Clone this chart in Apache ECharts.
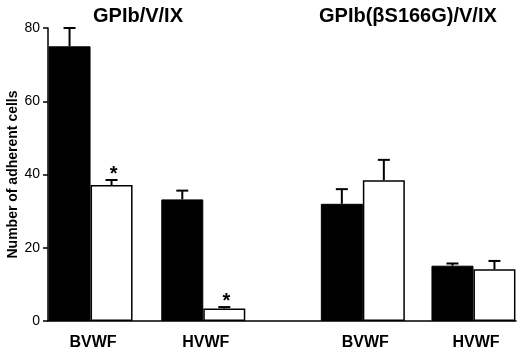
<!DOCTYPE html>
<html><head><meta charset="utf-8">
<script src="https://cdn.jsdelivr.net/npm/echarts@6/dist/echarts.min.js"></script>
<style>html,body{margin:0;padding:0;background:#fff}#c{width:520px;height:352px}</style>
</head><body><div id="c"></div>
<script>
// data
const categories = ['BVWF', 'HVWF', 'BVWF', 'HVWF'];
const groupPos = [1, 3.65, 7.4, 10];           // x position of each group on the category-like value axis
const panelTitles = ['GPIb/V/IX', 'GPIb(βS166G)/V/IX'];
const blackValues = [75, 33.2, 32, 15.1];
const blackErrTop = [80, 35.6, 36, 15.7];
const whiteValues = [37.1, 3.4, 38.4, 14.1];
const whiteErrTop = [38.5, 3.8, 44, 16.4];
const whiteSignificant = [true, true, false, false];
const yTicks = [0, 20, 40, 60, 80];
const yName = 'Number of adherent cells';

const FONT = '"Liberation Sans", Arial, Helvetica, sans-serif';
const BAR_W = 42;

const chart = echarts.init(document.getElementById('c'), null, {renderer: 'canvas'});

function errData(vals, errs, side, sig) {
  return vals.map((v, i) => [groupPos[i], v, errs[i], side, sig ? (sig[i] ? 1 : 0) : 0]);
}

function renderErr(params, api) {
  const x = api.value(0), v = api.value(1), e = api.value(2), side = api.value(3), sig = api.value(4);
  const p0 = api.coord([x, v]);
  const p1 = api.coord([x, e]);
  const cx = p0[0] + side * BAR_W / 2;
  const cap = 12;
  const children = [
    {type: 'line', shape: {x1: cx, y1: p0[1], x2: cx, y2: p1[1]}, style: {stroke: '#000', lineWidth: 2}},
    {type: 'line', shape: {x1: cx - cap / 2, y1: p1[1], x2: cx + cap / 2, y2: p1[1]}, style: {stroke: '#000', lineWidth: 2}}
  ];
  if (sig) {
    children.push({type: 'text', style: {x: cx + 2, y: p1[1] + 4, text: '*', textAlign: 'center', textVerticalAlign: 'bottom',
      font: 'bold 20px ' + FONT, fill: '#000'}});
  }
  return {type: 'group', children};
}

const option = {
  animation: false,
  backgroundColor: '#fff',
  title: [
    {text: panelTitles[0], left: 93, top: 6, padding: 0, textStyle: {fontFamily: FONT, fontSize: 20, fontWeight: 'bold', color: '#000'}},
    {text: panelTitles[1], left: 319, top: 6, padding: 0, textStyle: {fontFamily: FONT, fontSize: 20, fontWeight: 'bold', color: '#000'}}
  ],
  grid: {left: 48, right: 4, top: 28, bottom: 31, containLabel: false, outerBoundsMode: 'none'},
  xAxis: {
    type: 'value', min: 0, max: 11,
    splitLine: {show: false},
    axisLine: {show: true, onZero: false, lineStyle: {color: '#000', width: 1.5}},
    axisTick: {show: false},
    axisLabel: {
      customValues: groupPos,
      formatter: (val) => { const i = groupPos.indexOf(val); return i >= 0 ? categories[i] : ''; },
      fontFamily: FONT, fontSize: 16, fontWeight: 'bold', color: '#000', margin: 14,
      padding: [0, 0, 0, 5]
    }
  },
  yAxis: {
    type: 'value', min: 0, max: 80, interval: 20,
    splitLine: {show: false},
    axisLine: {show: true, lineStyle: {color: '#000', width: 1.5}},
    axisTick: {show: true, inside: false, length: 5, lineStyle: {color: '#000', width: 1.5}},
    axisLabel: {fontFamily: FONT, fontSize: 14, color: '#000', margin: 8,
      formatter: (v) => yTicks.indexOf(v) >= 0 ? String(v) : ''},
    name: yName, nameLocation: 'middle', nameGap: 28, nameMoveOverlap: false,
    nameTextStyle: {fontFamily: FONT, fontSize: 14, fontWeight: 'bold', color: '#000'}
  },
  series: [
    {type: 'bar', data: blackValues.map((v, i) => [groupPos[i], v]), barWidth: BAR_W, barGap: '0%',
      itemStyle: {color: '#000', borderColor: '#000', borderWidth: 1}},
    {type: 'bar', data: whiteValues.map((v, i) => [groupPos[i], v]), barWidth: BAR_W, barGap: '0%',
      itemStyle: {color: '#fff', borderColor: '#000', borderWidth: 1.5}},
    {type: 'custom', renderItem: renderErr, data: errData(blackValues, blackErrTop, -1), z: 5},
    {type: 'custom', renderItem: renderErr, data: errData(whiteValues, whiteErrTop, 1, whiteSignificant), z: 5}
  ]
};
chart.setOption(option);
</script></body></html>
